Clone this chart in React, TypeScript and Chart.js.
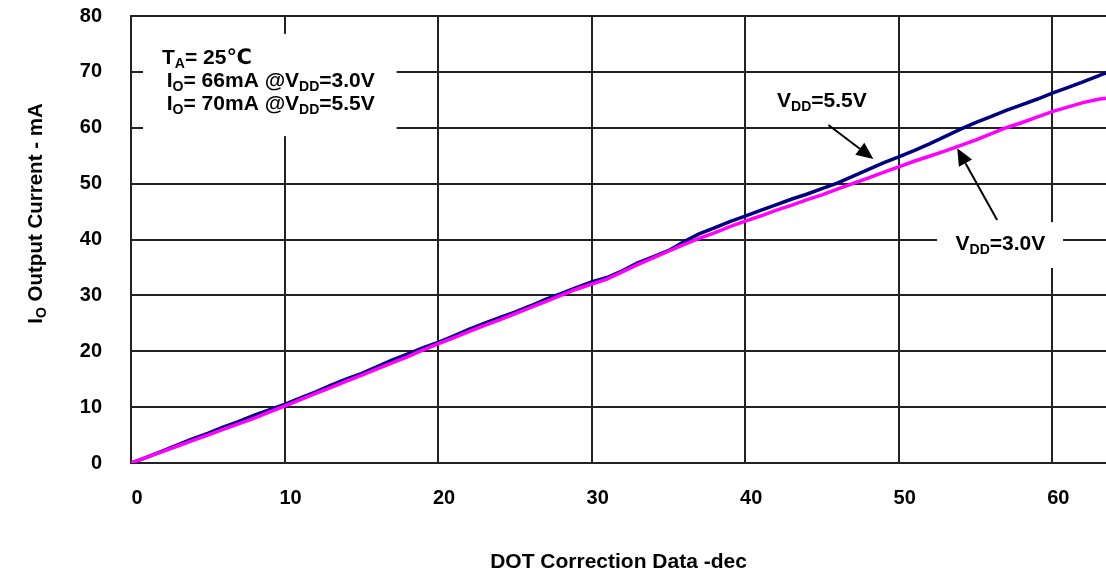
import React, { useEffect, useRef } from 'react';
import { Chart, registerables } from 'chart.js';

Chart.register(...registerables);

// DOT correction data (dec)
const dotCodes = [
  0, 1, 2, 3, 4, 5, 6, 7, 8, 9,
  10, 11, 12, 13, 14, 15, 16, 17, 18, 19,
  20, 21, 22, 23, 24, 25, 26, 27, 28, 29,
  30, 31, 32, 33, 34, 35, 36, 37, 38, 39,
  40, 41, 42, 43, 44, 45, 46, 47, 48, 49,
  50, 51, 52, 53, 54, 55, 56, 57, 58, 59,
  60, 61, 62, 63, 63.5,
];

// Output current (mA) at VDD = 5.5V
const current55 = [
  0, 1.0, 2.1, 3.2, 4.3, 5.3, 6.4, 7.4, 8.5, 9.5,
  10.5, 11.6, 12.7, 13.9, 15.0, 16.0, 17.2, 18.4, 19.5, 20.6,
  21.6, 22.7, 23.9, 25.0, 26.0, 27.0, 28.1, 29.3, 30.3, 31.4,
  32.4, 33.2, 34.4, 35.8, 36.9, 38.0, 39.6, 41.0, 42.1, 43.2,
  44.2, 45.2, 46.2, 47.2, 48.1, 49.1, 50.1, 51.3, 52.5, 53.7,
  54.8, 55.9, 57.1, 58.4, 59.7, 60.9, 62.0, 63.1, 64.1, 65.1,
  66.2, 67.2, 68.2, 69.3, 69.8,
];

// Output current (mA) at VDD = 3.0V
const current30 = [
  0, 1.0, 2.0, 3.0, 4.0, 5.0, 6.0, 7.0, 8.0, 9.1,
  10.2, 11.3, 12.4, 13.5, 14.6, 15.7, 16.8, 17.9, 19.0, 20.2,
  21.3, 22.4, 23.5, 24.6, 25.6, 26.7, 27.8, 28.9, 30.0, 31.1,
  32.0, 32.9, 34.2, 35.5, 36.7, 37.9, 39.1, 40.2, 41.2, 42.3,
  43.3, 44.2, 45.2, 46.1, 47.1, 48.0, 49.0, 50.0, 51.0, 52.0,
  53.0, 54.0, 54.9, 55.8, 56.8, 57.8, 58.9, 60.0, 60.9, 61.9,
  62.9, 63.7, 64.5, 65.1, 65.3,
];

const xTicks = [0, 10, 20, 30, 40, 50, 60];
const yTicks = [0, 10, 20, 30, 40, 50, 60, 70, 80];
const xRange = [0, 63.5];
const yRange = [0, 80];

const xTitle = 'DOT Correction Data -dec';
// [text, isSubscript]
const yTitle: [string, boolean][] = [['I', false], ['O', true], [' Output Current - mA', false]];

// annotation text lines: segments, anchor (data x, data y of baseline)
const noteSegments: [string, boolean][][] = [
  [['T', false], ['A', true], ['= 25\u2103', false]],
  [['I', false], ['O', true], ['= 66mA @V', false], ['DD', true], ['=3.0V', false]],
  [['I', false], ['O', true], ['= 70mA @V', false], ['DD', true], ['=5.5V', false]],
  [['V', false], ['DD', true], ['=5.5V', false]],
  [['V', false], ['DD', true], ['=3.0V', false]],
];
const noteX = [2.02, 2.33, 2.33, 42.08, 53.7];
const noteY = [71.4, 67.35, 63.2, 63.77, 38.12];

// white label boxes [x0, x1, y0, y1] in data units
const boxX0 = [0.78, 52.5];
const boxX1 = [17.3, 60.7];
const boxY0 = [58.5, 34.9];
const boxY1 = [76.8, 43.1];

// arrows: tail -> tip, data units
const arrowFromX = [45.42, 56.41];
const arrowFromY = [60.49, 43.49];
const arrowToX = [48.35, 53.81];
const arrowToY = [54.41, 56.32];

const TEXT_FONT = '"Liberation Sans", Arial, "DejaVu Sans", sans-serif';
const TICK_FONT = '"Liberation Sans", Arial, sans-serif';

function drawSegs(ctx: CanvasRenderingContext2D, segs: [string, boolean][], x: number, y: number, size: number, subSize: number, drop: number) {
  let cx = x;
  for (const [t, sub] of segs) {
    ctx.font = `bold ${sub ? subSize : size}px ${TEXT_FONT}`;
    ctx.fillText(t, cx, sub ? y + drop : y);
    cx += ctx.measureText(t).width;
  }
  return cx - x;
}

function segsWidth(ctx: CanvasRenderingContext2D, segs: [string, boolean][], size: number, subSize: number) {
  let w = 0;
  for (const [t, sub] of segs) {
    ctx.font = `bold ${sub ? subSize : size}px ${TEXT_FONT}`;
    w += ctx.measureText(t).width;
  }
  return w;
}

const annotationPlugin = {
  id: 'annotations',
  beforeDatasetsDraw(chart: any) {
    const { ctx, scales } = chart;
    const xs = scales.x;
    const ys = scales.y;
    ctx.save();
    ctx.fillStyle = '#ffffff';
    for (let i = 0; i < boxX0.length; i++) {
      const l = xs.getPixelForValue(boxX0[i]);
      const r = xs.getPixelForValue(boxX1[i]);
      const t = ys.getPixelForValue(boxY1[i]);
      const b = ys.getPixelForValue(boxY0[i]);
      ctx.fillRect(l, t, r - l, b - t);
    }
    ctx.restore();
  },
  afterDraw(chart: any) {
    const { ctx, scales, chartArea } = chart;
    const xs = scales.x;
    const ys = scales.y;
    ctx.save();
    ctx.fillStyle = '#000000';
    ctx.strokeStyle = '#000000';
    ctx.textBaseline = 'alphabetic';
    ctx.textAlign = 'left';
    for (let i = 0; i < noteSegments.length; i++) {
      drawSegs(ctx, noteSegments[i], xs.getPixelForValue(noteX[i]), ys.getPixelForValue(noteY[i]), 21, 14, 4);
    }
    // arrows
    for (let i = 0; i < arrowFromX.length; i++) {
      const x1 = xs.getPixelForValue(arrowFromX[i]);
      const y1 = ys.getPixelForValue(arrowFromY[i]);
      const x2 = xs.getPixelForValue(arrowToX[i]);
      const y2 = ys.getPixelForValue(arrowToY[i]);
      const ang = Math.atan2(y2 - y1, x2 - x1);
      const headLen = 17;
      const headW = 7.5;
      const bx = x2 - headLen * Math.cos(ang);
      const by = y2 - headLen * Math.sin(ang);
      ctx.lineWidth = 2;
      ctx.beginPath();
      ctx.moveTo(x1, y1);
      ctx.lineTo(bx, by);
      ctx.stroke();
      ctx.beginPath();
      ctx.moveTo(x2, y2);
      ctx.lineTo(bx + headW * Math.sin(ang), by - headW * Math.cos(ang));
      ctx.lineTo(bx - headW * Math.sin(ang), by + headW * Math.cos(ang));
      ctx.closePath();
      ctx.fill();
    }
    // x axis title
    ctx.font = `bold 21px ${TEXT_FONT}`;
    ctx.textAlign = 'center';
    ctx.fillText(xTitle, (chartArea.left + chartArea.right) / 2, 568);
    // y axis title (rotated)
    ctx.textAlign = 'left';
    const w = segsWidth(ctx, yTitle, 20.5, 14);
    ctx.translate(chartArea.left - 89, (chartArea.top + chartArea.bottom) / 2 - 26);
    ctx.rotate(-Math.PI / 2);
    drawSegs(ctx, yTitle, -w / 2, 0, 20.5, 14, 4);
    ctx.restore();
  },
};

export default function App() {
  const canvasRef = useRef<HTMLCanvasElement | null>(null);

  useEffect(() => {
    const canvas = canvasRef.current;
    if (!canvas) return;
    const chart = new Chart(canvas, {
      type: 'line',
      data: {
        datasets: [
          {
            label: 'VDD=3.0V',
            data: dotCodes.map((x, i) => ({ x, y: current30[i] })),
            borderColor: '#ff00ff',
            borderWidth: 3.5,
            pointRadius: 0,
            fill: false,
            tension: 0,
          },
          {
            label: 'VDD=5.5V',
            data: dotCodes.map((x, i) => ({ x, y: current55[i] })),
            borderColor: '#000080',
            borderWidth: 3.5,
            pointRadius: 0,
            fill: false,
            tension: 0,
          },
        ],
      },
      options: {
        responsive: false,
        animation: false,
        events: [],
        layout: { padding: { top: 16, left: 0, right: 0, bottom: 0 } },
        plugins: {
          legend: { display: false },
          tooltip: { enabled: false },
          title: { display: false },
        },
        scales: {
          x: {
            type: 'linear',
            min: xRange[0],
            max: xRange[1],
            afterBuildTicks: (s: any) => {
              s.ticks = xTicks.map((v) => ({ value: v }));
            },
            afterFit: (s: any) => {
              s.height = 119;
              s.paddingLeft = 0;
              s.paddingRight = 0;
            },
            grid: { color: '#222222', lineWidth: 2, drawTicks: false },
            border: { color: '#222222', width: 2 },
            ticks: {
              autoSkip: false,
              maxRotation: 0,
              padding: 23,
              labelOffset: 6,
              color: '#000000',
              font: { family: TICK_FONT, size: 20, weight: 'bold' },
            },
          },
          y: {
            type: 'linear',
            min: yRange[0],
            max: yRange[1],
            afterBuildTicks: (s: any) => {
              s.ticks = yTicks.map((v) => ({ value: v }));
            },
            afterFit: (s: any) => {
              s.width = 131;
              s.paddingTop = 0;
              s.paddingBottom = 0;
            },
            grid: { color: '#222222', lineWidth: 2, drawTicks: false },
            border: { color: '#222222', width: 2 },
            ticks: {
              autoSkip: false,
              padding: 29,
              color: '#000000',
              font: { family: TICK_FONT, size: 20, weight: 'bold' },
            },
          },
        },
      },
      plugins: [annotationPlugin],
    });
    return () => chart.destroy();
  }, []);

  return (
    <div style={{ position: 'fixed', left: 0, top: 0, width: 1106, height: 582, background: '#ffffff' }}>
      <canvas ref={canvasRef} width={1106} height={582} style={{ display: 'block' }} />
    </div>
  );
}
